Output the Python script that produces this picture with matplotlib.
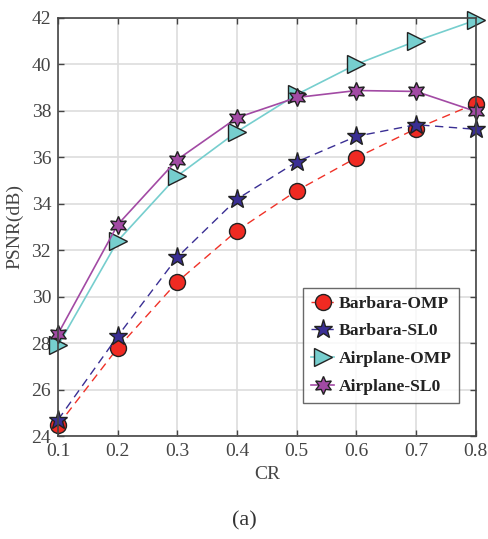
import matplotlib
matplotlib.use("Agg")
import matplotlib.pyplot as plt

cr = [0.1, 0.2, 0.3, 0.4, 0.5, 0.6, 0.7, 0.8]
barbara_omp = [24.47, 27.79, 30.64, 32.84, 34.56, 35.98, 37.23, 38.31]
barbara_sl0 = [24.7, 28.3, 31.7, 34.2, 35.8, 36.9, 37.4, 37.2]
airplane_omp = [27.9, 32.4, 35.2, 37.1, 38.7, 40.0, 41.0, 41.9]
airplane_sl0 = [28.4, 33.1, 35.9, 37.7, 38.57, 38.87, 38.83, 37.97]
xticks = [0.1, 0.2, 0.3, 0.4, 0.5, 0.6, 0.7, 0.8]
yticks = [24, 26, 28, 30, 32, 34, 36, 38, 40, 42]

plt.rcParams['font.family'] = ['Liberation Serif', 'DejaVu Serif']
plt.rcParams['mathtext.fontset'] = 'stix'

fig = plt.figure(figsize=(4.88, 5.39), dpi=100)
ax = fig.add_axes([0.119, 0.191, 0.856, 0.776])

ax.plot(cr, barbara_omp, '--', color='#f03228', lw=1.0, marker='o', ms=11.5,
        mfc='#f02a22', mec='#222222', mew=1.0, label='Barbara-OMP', dashes=(6, 4))
ax.plot(cr, barbara_sl0, '--', color='#3a2f94', lw=1.0, marker='*', ms=14,
        mfc='#3a2f94', mec='#222222', mew=1.0, label='Barbara-SL0', dashes=(6, 4))
ax.plot(cr, airplane_omp, '-', color='#76cece', lw=1.2, marker='>', ms=13,
        mfc='#76cece', mec='#222222', mew=1.0, label='Airplane-OMP')
ax.plot(cr, airplane_sl0, '-', color='#a24aa4', lw=1.2, marker=(6, 1, 0), ms=13,
        mfc='#a24aa4', mec='#222222', mew=1.0, label='Airplane-SL0')

ax.set_xlim(0.1, 0.8)
ax.set_ylim(24, 42)
ax.set_xticks(xticks)
ax.set_xticklabels([f'{v:.1f}' for v in xticks])
ax.set_yticks(yticks)
ax.grid(True, color='#dddddd', lw=1.2)
ax.set_axisbelow(True)
for s in ax.spines.values():
    s.set_color('#444444')
    s.set_linewidth(1.2)
ax.tick_params(direction='in', top=True, right=True, length=4, width=1.0,
               color='#444444', labelsize=14, labelcolor='#444444', pad=5)
for m in ax.lines:
    m.set_clip_on(False)

ax.set_xlabel('CR', fontsize=14, color='#444444', labelpad=4)
ax.set_ylabel('PSNR(dB)', fontsize=14, color='#444444', labelpad=6)

leg = ax.legend(loc='lower right', bbox_to_anchor=(0.96, 0.08),
                prop={'weight': 'bold', 'size': 12.6}, frameon=True, fancybox=False,
                edgecolor='#444444', handlelength=1.3, borderpad=0.45,
                labelspacing=0.65, handletextpad=0.25, borderaxespad=0)
leg.get_frame().set_linewidth(1.0)
for t in leg.get_texts():
    t.set_color('#222222')

fig.text(0.5, 0.033, '(a)', ha='center', va='center', fontsize=16, color='#333333')

fig.savefig('out.png', dpi=100)
